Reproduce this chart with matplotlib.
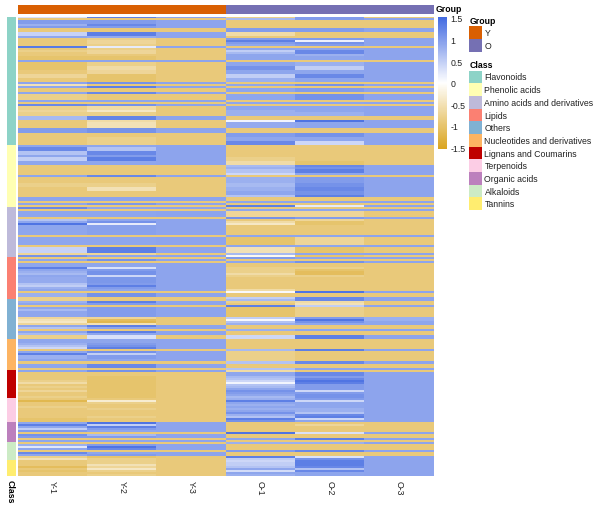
import numpy as np
import matplotlib
matplotlib.use('Agg')
import matplotlib.pyplot as plt
from matplotlib.colors import LinearSegmentedColormap, ListedColormap
from matplotlib.patches import Rectangle

plt.rcParams['font.family'] = ['Liberation Sans', 'DejaVu Sans']

# z-scores, per band: [rows, Y-1, Y-2, Y-3, O-1, O-2, O-3]
flavonoids = [
    [1, .3, 1.3, .92, -.8, 1.0, -.9],
    [1, -.9, -.9, -.9, .7, 1.0, .92],
    [2, 1.0, 1.0, .92, -.9, -.9, -.9],
    [1, .8, 1.2, .92, -.9, -.9, -.9],
    [1, 1.0, 1.0, .92, -.9, -.9, -.9],
    [2, -.9, -.9, -.9, 1.0, 1.0, .92],
    [2, .45, 1.3, .92, -.6, -.9, -.9],
    [1, .9, .85, .92, -.9, -.9, -.9],
    [1, -.9, -.8, -.9, 1.0, 1.0, .92],
    [1, -.9, -.7, -.9, 1.3, .15, .92],
    [1, -.9, -.7, -.9, 1.0, 1.1, .92],
    [1, -.9, -.8, -.9, .9, 1.0, .92],
    [1, 1.35, .2, .92, -.9, -.9, -.9],
    [1, -.9, -.8, -.9, .9, .9, .92],
    [1, -.8, -.7, -.9, .5, 1.2, .92],
    [1, -.9, -.7, -.9, .7, 1.2, .92],
    [1, -.9, -.9, -.9, .9, .8, .92],
    [2, -1.0, -1.0, -.9, .9, .9, .92],
    [1, .92, .92, .92, -.9, -.9, -.9],
    [2, -1.0, -.8, -.9, .9, .8, .92],
    [2, -1.0, -.6, -.9, 1.1, .5, .92],
    [2, -.9, -.7, -.9, .9, .9, .92],
    [2, -.7, -1.0, -.9, .5, 1.2, .92],
    [2, -.9, -1.0, -.9, .8, .9, .92],
    [1, .92, 1.1, .92, -.9, -.9, -.9],
    [1, -.5, -.9, -.9, .9, 1.1, .92],
    [1, .9, 1.3, .92, -.9, -.9, -.9],
    [2, -.9, -.9, -.9, .9, 1.0, .92],
    [1, .9, 1.2, .92, -.9, -.9, -.9],
    [3, -.8, -.9, -.9, .9, 1.1, .92],
    [1, .9, .9, .92, -.9, -.9, -.9],
    [1, -.9, -.9, -.9, .9, .9, .92],
    [1, 1.2, 1.1, .92, -.9, -.9, -.9],
    [2, -.8, -.6, -.9, .9, .9, .92],
    [1, -.7, -.4, -.9, .8, .9, .92],
    [2, -.8, -.8, -.9, .8, .8, .92],
    [2, .7, 1.25, .92, -.9, -.9, -.9],
    [1, -.9, -.6, -.9, .1, 1.4, .92],
    [3, -.9, -.5, -.9, .85, .9, .92],
    [2, 1.0, 1.1, .92, -.9, -.9, -.9],
    [2, -.9, -.9, -.9, 1.0, 1.1, .92],
    [2, -.9, -.8, -.9, .9, .9, .92],
    [2, -.9, -.8, -.9, 1.2, .4, .92],
]
phenolic_acids = [
    [1, .9, .9, .92, -.9, -.9, -.9],
    [2, 1.2, .6, .92, -.9, -.9, -.9],
    [2, .6, 1.2, .92, -.9, -.9, -.9],
    [1, .9, 1.0, .92, -.9, -.9, -.9],
    [2, .5, 1.3, .92, -.8, -.9, -.9],
    [2, .9, .9, .92, -.6, -1.0, -.9],
    [1, -.9, -.9, -.9, .7, 1.2, .92],
    [1, -.9, -.9, -.9, .8, 1.1, .92],
    [2, -.9, -.9, -.9, .6, 1.3, .92],
    [1, -.9, -.9, -.9, .4, .9, .92],
    [1, .9, 1.2, .92, -.9, -.9, -.9],
    [3, -.9, -.9, -.9, .8, 1.0, .92],
    [2, -.8, -.8, -.9, .7, 1.1, .92],
    [2, -.9, -.5, -.9, .8, 1.2, .92],
    [2, -.9, -.9, -.9, .9, 1.1, .92],
    [1, -.9, -.9, -.9, .6, 1.3, .92],
    [2, .92, .92, .92, -.9, -.9, -.9],
    [1, -.9, -.9, -.9, .9, .9, .92],
    [1, .9, 1.05, .92, -.9, -.9, -.9],
    [1, -.9, -.9, -.9, 1.3, .2, .92],
]
amino_acids = [
    [1, 1.2, .9, .92, -.9, -.9, -.9],
    [1, -.9, -.9, -.9, .9, .9, .92],
    [3, .9, .9, .92, -.7, -.7, -.9],
    [1, -.9, -.9, -.9, 1.1, 1.0, .92],
    [1, .6, .9, .92, -.9, -.7, -.9],
    [1, .9, 1.1, .92, -.6, -1.0, -.9],
    [1, 1.4, .2, .92, -.4, -1.0, -.9],
    [5, .9, .95, .92, -.9, -.9, -.9],
    [1, -.9, -.9, -.9, .9, .9, .92],
    [4, .9, .9, .92, -1.0, -.7, -.9],
    [1, -.9, -.9, -.9, .9, .9, .92],
    [3, .45, 1.3, .92, -.5, -1.0, -.9],
    [1, -.7, -.7, -.9, .7, .9, .92],
    [1, 1.1, .9, .92, -.1, -1.0, -.9],
]
lipids = [
    [1, -.9, -.9, -.9, 1.0, .9, .92],
    [1, .9, 1.1, .92, -.9, -.9, -.9],
    [1, -.9, -.9, -.9, .9, 1.1, .92],
    [2, .9, .9, .92, -.9, -.9, -.9],
    [1, 1.3, .3, .92, -.8, -.8, -.9],
    [1, .9, 1.0, .92, -.8, -1.0, -.9],
    [1, .8, 1.1, .92, -.8, -1.1, -.9],
    [1, .7, 1.1, .92, -.6, -1.1, -.9],
    [1, .9, .4, .92, -.8, -.8, -.9],
    [3, .85, 1.05, .92, -.9, -.9, -.9],
    [1, .6, 1.0, .92, -.9, -.9, -.9],
    [1, .5, 1.3, .92, -.9, -.9, -.9],
    [1, .8, 1.0, .92, -.9, -.9, -.9],
    [1, .9, .9, .92, -.6, -.9, -.9],
    [1, -.9, -.9, -.9, .05, 1.4, .92],
    [2, .8, 1.1, .92, -.9, -.9, -.9],
    [1, -.8, -.9, -.9, .5, 1.2, .92],
]
others = [
    [1, -.8, -.9, -.9, .7, 1.2, .92],
    [1, .8, 1.3, .92, -.8, -.6, -.9],
    [1, .9, 1.0, .92, -.9, -.5, -.9],
    [1, -.9, -.9, -.9, 1.3, .5, .92],
    [1, .9, 1.0, .92, -1.0, -.8, -.9],
    [1, .7, 1.0, .92, -1.0, -.8, -.9],
    [3, .9, 1.0, .92, -1.0, -.8, -.9],
    [1, -.7, -.7, -.9, .5, 1.0, .8],
    [1, -.5, -1.1, -.9, .05, 1.4, .8],
    [1, -.4, -1.2, -.9, .6, 1.1, .9],
    [1, -.7, -.5, -.9, .8, .9, .9],
    [1, .9, 1.3, .92, -.9, -.9, -.9],
    [1, .6, .9, .92, -.9, -.9, -.9],
    [1, -.9, -.9, -.9, .8, .9, .92],
    [1, .9, 1.3, .92, -.9, -.9, -.9],
    [1, .7, .9, .92, -.9, -.9, -.9],
    [2, -.8, .3, -.9, .4, 1.3, .92],
]
nucleotides = [
    [2, .9, .9, .92, -.9, -.9, -.9],
    [1, .8, 1.0, .92, -.9, -.9, -.9],
    [1, .6, 1.1, .92, -.9, -.9, -.9],
    [1, .4, 1.3, .92, -.9, -.9, -.9],
    [1, -.9, -.9, -.9, .7, 1.3, .92],
    [1, .9, 1.1, .92, -.8, -.9, -.9],
    [1, 1.3, .5, .92, -.8, -.9, -.9],
    [2, .8, 1.0, .92, -.8, -.9, -.9],
    [1, .9, .9, .92, -.8, -.9, -.9],
    [1, -.9, -.9, -.9, .6, 1.2, .92],
    [2, .9, 1.2, .92, -.9, -.9, -.9],
    [1, -.9, -.9, -.9, .6, .9, .92],
]
lignans = [
    [1, .9, 1.1, .92, -.6, -.9, -.9],
    [2, -.9, -.9, -.9, .9, 1.2, .92],
    [1, -.9, -1.0, -.9, .7, 1.0, .92],
    [1, -.9, -1.0, -.9, .6, 1.2, .92],
    [1, -.8, -1.0, -.9, .4, 1.4, .92],
    [1, -.6, -1.0, -.9, .1, 1.3, .92],
    [1, -.9, -1.0, -.9, .6, 1.0, .92],
    [1, -.8, -1.0, -.9, .7, 1.0, .92],
    [1, -.9, -1.0, -.9, .9, 1.0, .92],
    [1, -.7, -1.0, -.9, 1.1, .4, .92],
    [1, -.9, -1.0, -.9, 1.0, 1.0, .92],
    [1, -.9, -1.0, -.9, .9, 1.1, .92],
    [1, -.8, -1.0, -.9, .7, 1.1, .92],
]
terpenoids = [
    [1, -.9, -.9, -.9, .8, 1.0, .92],
    [1, -1.2, -.3, -.9, 1.3, .4, .92],
    [1, -.9, -.8, -.9, .9, .9, .92],
    [1, -.9, -.9, -.9, .8, .9, .92],
    [1, -.8, -.9, -.9, .9, .9, .92],
    [1, -.9, -.8, -.9, .8, .8, .92],
    [1, -.9, -.9, -.9, .9, .8, .92],
    [1, -.9, -.9, -.9, 1.1, .6, .92],
    [1, -.9, -.9, -.9, .8, 1.2, .92],
    [1, -.9, -.8, -.9, .6, 1.3, .92],
    [1, -1.0, -.9, -.9, 1.3, .4, .92],
    [1, -1.0, -.9, -.9, 1.1, .9, .92],
]
organic_acids = [
    [1, .9, 1.4, .92, -.9, -.9, -.9],
    [1, 1.3, .5, .92, -.9, -.7, -.9],
    [1, .9, 1.3, .92, -.9, -.9, -.9],
    [1, .5, 1.0, .92, -.9, -.9, -.9],
    [1, 1.0, .9, .92, -.9, -.9, -.9],
    [1, -.9, -.9, -.9, 1.4, .3, .92],
    [1, 1.1, .7, .92, -.9, -.9, -.9],
    [1, 1.0, 1.0, .92, -.9, -.9, -.9],
    [1, -.9, -.9, -.9, .9, 1.3, .92],
    [1, .9, .9, .92, -.9, -.9, -.9],
]
alkaloids = [
    [1, -.9, -.9, -.9, .8, .8, .92],
    [1, .8, 1.0, .92, -.9, -.9, -.9],
    [1, .25, 1.4, .92, -.9, -.9, -.9],
    [1, .9, 1.2, .92, -.9, -.9, -.9],
    [1, -.9, -.9, -.9, 1.0, 1.2, .92],
    [1, 1.2, .9, .92, -.9, -.9, -.9],
    [1, .9, 1.0, .92, -.9, -.9, -.9],
    [1, -.8, -1.0, -.9, 1.3, .3, .92],
    [1, -.5, -.8, -.9, .5, 1.1, .92],
]
tannins = [
    [1, -.9, -.8, -.9, .4, 1.3, .92],
    [1, -.9, -.8, -.9, .5, 1.3, .92],
    [1, -.9, -.5, -.9, .5, 1.3, .92],
    [1, -1.1, -.7, -.9, .6, 1.2, .92],
    [1, -.9, -.4, -.9, .9, .6, .92],
    [1, -1.0, -.8, -.9, .35, 1.2, .92],
    [1, -.9, -.9, -.9, .9, .9, .92],
    [1, -.9, -.8, -.9, .8, .9, .92],
]

samples = ['Y-1', 'Y-2', 'Y-3', 'O-1', 'O-2', 'O-3']
group_names = ['Y', 'O']
group_colors = ['#D95F02', '#7570B3']
class_names = ['Flavonoids', 'Phenolic acids', 'Amino acids and derivatives', 'Lipids', 'Others',
               'Nucleotides and derivatives', 'Lignans and Coumarins', 'Terpenoids', 'Organic acids',
               'Alkaloids', 'Tannins']
class_colors = ['#8DD3C7', '#FFFFB3', '#BEBADA', '#FB8072', '#80B1D3', '#FDB462',
                '#BF0000', '#FCCDE5', '#BC80BD', '#CCEBC5', '#FFED6F']
class_bands = [flavonoids, phenolic_acids, amino_acids, lipids, others, nucleotides,
               lignans, terpenoids, organic_acids, alkaloids, tannins]

# expand the bands into one matrix, remembering the class of each row
rows = []
row_class = []
for i, bands in enumerate(class_bands):
    for band in bands:
        for _ in range(band[0]):
            rows.append(band[1:])
            row_class.append(i)
matrix = np.array(rows)
row_class = np.array(row_class)
print(matrix.shape, np.bincount(row_class))

W, H = 600, 510
FONT = 6.3


def px_axes(fig, x0, y0, x1, y1):
    # axes from pixel coordinates, y measured from the top
    ax = fig.add_axes([x0 / W, 1 - y1 / H, (x1 - x0) / W, (y1 - y0) / H])
    return ax


heat_cmap = LinearSegmentedColormap.from_list('gwb', ['#DAA520', '#FFFFFF', '#4169E1'])

fig = plt.figure(figsize=(W / 100, H / 100), dpi=100)

# main heatmap
ax = px_axes(fig, 18, 17.7, 433.5, 477.3)
im = ax.imshow(matrix, aspect='auto', cmap=heat_cmap, vmin=-1.53, vmax=1.53, interpolation='nearest')
ax.set_xticks(range(6))
ax.set_xticklabels(samples, rotation=-90, fontsize=FONT, color='#222222')
ax.set_yticks([])
ax.tick_params(axis='x', length=0, pad=3)
for s in ax.spines.values():
    s.set_visible(False)

# group bar on top
ax_top = px_axes(fig, 18, 6, 433.5, 15)
ax_top.imshow(np.array([[0, 0, 0, 1, 1, 1]]), aspect='auto', cmap=ListedColormap(group_colors))
ax_top.axis('off')

# class strip on the left
ax_left = px_axes(fig, 6.7, 17.7, 15.5, 477.3)
ax_left.imshow(row_class[:, None], aspect='auto', cmap=ListedColormap(class_colors), interpolation='nearest')
ax_left.axis('off')

fig.text(436 / W, 1 - 10 / H, 'Group', fontsize=FONT, fontweight='bold', va='center')
fig.text(10.5 / W, 1 - 480.5 / H, 'Class', fontsize=FONT, fontweight='bold', rotation=-90, ha='center', va='top')

# colour bar
cax = px_axes(fig, 438.3, 17.7, 447, 149.7)
cb = fig.colorbar(im, cax=cax)
cb.set_ticks([1.5, 1, .5, 0, -.5, -1, -1.5])
cb.set_ticklabels(['1.5', '1', '0.5', '0', '-0.5', '-1', '-1.5'])
cb.ax.tick_params(length=0, pad=2.5, labelsize=FONT, labelcolor='#222222')
cb.outline.set_visible(False)

# legends, drawn by hand on an overlay in pixel coordinates
lg = fig.add_axes([0, 0, 1, 1])
lg.set_xlim(0, W)
lg.set_ylim(H, 0)
lg.axis('off')
lg.patch.set_alpha(0)

lg.text(469.3, 21, 'Group', fontsize=FONT, fontweight='bold', va='center')
for i, name in enumerate(group_names):
    y = 27.3 + i * 12.7
    lg.add_patch(Rectangle((469.3, y), 12.7, 12.7, color=group_colors[i], lw=0))
    lg.text(484.5, y + 6.4, name, fontsize=FONT, va='center', color='#222222')

lg.text(469.3, 65, 'Class', fontsize=FONT, fontweight='bold', va='center')
for i, name in enumerate(class_names):
    y = 71.7 + i * 12.67
    lg.add_patch(Rectangle((469.3, y), 12.7, 12.67, color=class_colors[i], lw=0))
    lg.text(484.5, y + 6.3, name, fontsize=FONT, va='center', color='#222222')

fig.savefig('out.png', dpi=100)
